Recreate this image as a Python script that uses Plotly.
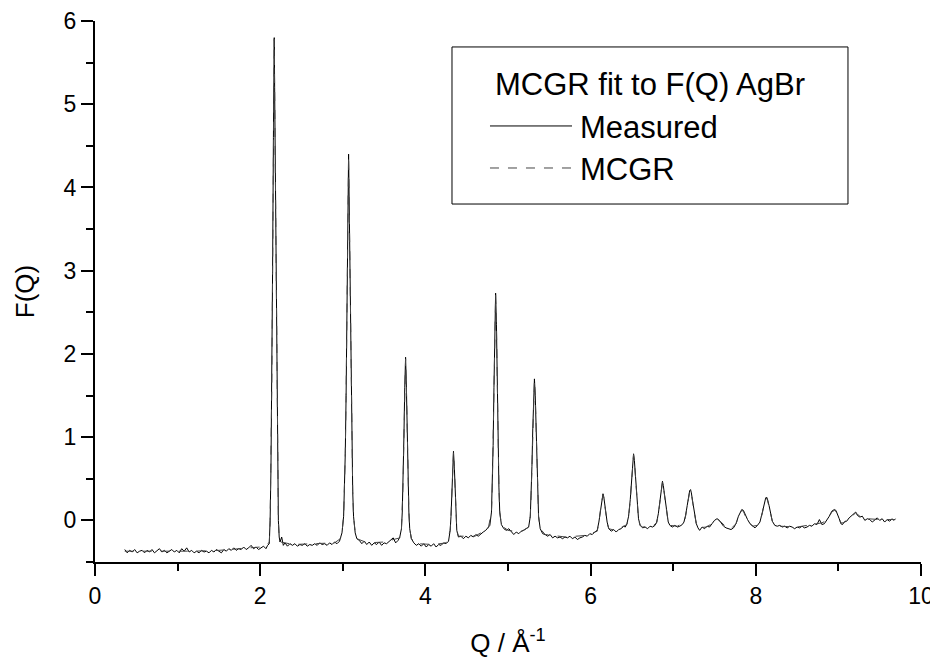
import plotly.graph_objects as go

# Measured F(Q)
q_measured = [
    0.36, 0.39, 0.42, 0.45, 0.48, 0.51, 0.54, 0.57, 0.60, 0.63,
    0.66, 0.69, 0.72, 0.75, 0.78, 0.81, 0.84, 0.87, 0.90, 0.93,
    0.96, 0.99, 1.02, 1.05, 1.08, 1.11, 1.14, 1.17, 1.20, 1.23,
    1.26, 1.29, 1.32, 1.35, 1.38, 1.41, 1.44, 1.47, 1.50, 1.53,
    1.56, 1.59, 1.62, 1.65, 1.68, 1.71, 1.74, 1.77, 1.80, 1.83,
    1.86, 1.89, 1.92, 1.95, 1.98, 2.01, 2.04, 2.07, 2.09, 2.11,
    2.12, 2.13, 2.14, 2.15, 2.16, 2.165, 2.17, 2.175, 2.18, 2.19,
    2.20, 2.21, 2.22, 2.23, 2.24, 2.26, 2.28, 2.30, 2.33, 2.36,
    2.39, 2.42, 2.45, 2.48, 2.51, 2.54, 2.57, 2.60, 2.63, 2.66,
    2.69, 2.72, 2.75, 2.78, 2.81, 2.84, 2.87, 2.90, 2.93, 2.96,
    2.97, 2.99, 3.01, 3.02, 3.03, 3.04, 3.05, 3.06, 3.07, 3.08,
    3.09, 3.10, 3.11, 3.12, 3.13, 3.15, 3.17, 3.20, 3.23, 3.26,
    3.29, 3.32, 3.35, 3.38, 3.41, 3.44, 3.47, 3.50, 3.53, 3.56,
    3.59, 3.61, 3.64, 3.67, 3.69, 3.71, 3.72, 3.73, 3.74, 3.75,
    3.76, 3.77, 3.78, 3.79, 3.80, 3.81, 3.83, 3.86, 3.89, 3.92,
    3.95, 3.98, 4.01, 4.04, 4.07, 4.10, 4.13, 4.16, 4.19, 4.22,
    4.25, 4.28, 4.30, 4.31, 4.32, 4.33, 4.34, 4.35, 4.36, 4.37,
    4.38, 4.40, 4.43, 4.46, 4.49, 4.52, 4.55, 4.58, 4.61, 4.64,
    4.67, 4.70, 4.73, 4.76, 4.78, 4.80, 4.81, 4.82, 4.83, 4.84,
    4.85, 4.86, 4.87, 4.88, 4.89, 4.90, 4.92, 4.95, 4.98, 5.01,
    5.04, 5.07, 5.10, 5.13, 5.16, 5.19, 5.22, 5.25, 5.27, 5.28,
    5.29, 5.30, 5.31, 5.32, 5.33, 5.34, 5.35, 5.36, 5.37, 5.39,
    5.42, 5.45, 5.48, 5.51, 5.54, 5.57, 5.60, 5.63, 5.66, 5.69,
    5.72, 5.75, 5.78, 5.81, 5.84, 5.87, 5.90, 5.93, 5.96, 5.99,
    6.02, 6.05, 6.08, 6.10, 6.12, 6.14, 6.15, 6.16, 6.18, 6.20,
    6.22, 6.25, 6.28, 6.31, 6.34, 6.37, 6.40, 6.42, 6.44, 6.46,
    6.48, 6.50, 6.51, 6.52, 6.53, 6.54, 6.56, 6.58, 6.60, 6.63,
    6.66, 6.69, 6.72, 6.75, 6.78, 6.80, 6.82, 6.84, 6.86, 6.87,
    6.88, 6.90, 6.92, 6.94, 6.96, 6.99, 7.02, 7.05, 7.08, 7.11,
    7.13, 7.15, 7.17, 7.19, 7.20, 7.21, 7.22, 7.24, 7.26, 7.28,
    7.30, 7.32, 7.35, 7.38, 7.41, 7.44, 7.47, 7.50, 7.53, 7.55,
    7.58, 7.61, 7.64, 7.67, 7.70, 7.73, 7.76, 7.79, 7.81, 7.83,
    7.85, 7.87, 7.90, 7.93, 7.96, 7.99, 8.02, 8.05, 8.08, 8.10,
    8.12, 8.13, 8.14, 8.16, 8.18, 8.20, 8.23, 8.26, 8.29, 8.32,
    8.35, 8.38, 8.41, 8.44, 8.47, 8.50, 8.53, 8.56, 8.59, 8.62,
    8.65, 8.68, 8.71, 8.74, 8.77, 8.80, 8.83, 8.86, 8.89, 8.92,
    8.95, 8.97, 8.99, 9.01, 9.03, 9.05, 9.07, 9.10, 9.13, 9.16,
    9.19, 9.21, 9.23, 9.26, 9.29, 9.32, 9.35, 9.38, 9.41, 9.44,
    9.47, 9.50, 9.53, 9.56, 9.59, 9.62, 9.65, 9.67, 9.69,
]
f_measured = [
    -0.35, -0.39, -0.36, -0.38, -0.35, -0.39, -0.37, -0.36, -0.39, -0.36,
    -0.38, -0.35, -0.39, -0.37, -0.34, -0.38, -0.36, -0.39, -0.37, -0.35,
    -0.38, -0.36, -0.39, -0.34, -0.37, -0.33, -0.38, -0.36, -0.39, -0.37,
    -0.39, -0.36, -0.38, -0.37, -0.39, -0.36, -0.38, -0.35, -0.37, -0.39,
    -0.35, -0.37, -0.34, -0.36, -0.33, -0.36, -0.34, -0.35, -0.32, -0.35,
    -0.33, -0.30, -0.34, -0.32, -0.35, -0.33, -0.31, -0.34, -0.30, -0.28,
    0.00, 0.60, 1.60, 3.00, 4.60, 5.20, 5.80, 5.20, 4.60, 3.00,
    1.60, 0.60, 0.00, -0.20, -0.26, -0.20, -0.30, -0.27, -0.31, -0.28,
    -0.30, -0.28, -0.31, -0.29, -0.30, -0.28, -0.31, -0.29, -0.30, -0.28,
    -0.30, -0.27, -0.29, -0.28, -0.30, -0.27, -0.29, -0.26, -0.28, -0.25,
    -0.22, -0.15, 0.05, 0.35, 0.80, 1.50, 2.60, 3.60, 4.40, 3.60,
    2.60, 1.50, 0.80, 0.35, 0.05, -0.15, -0.22, -0.24, -0.28, -0.25,
    -0.29, -0.26, -0.30, -0.27, -0.29, -0.26, -0.30, -0.27, -0.28, -0.25,
    -0.23, -0.21, -0.27, -0.24, -0.20, -0.10, 0.10, 0.45, 1.00, 1.60,
    1.96, 1.60, 1.00, 0.45, 0.10, -0.10, -0.22, -0.27, -0.30, -0.28,
    -0.31, -0.28, -0.32, -0.29, -0.31, -0.28, -0.32, -0.29, -0.30, -0.27,
    -0.28, -0.25, -0.12, 0.05, 0.35, 0.65, 0.83, 0.65, 0.35, 0.05,
    -0.12, -0.20, -0.19, -0.22, -0.19, -0.21, -0.18, -0.20, -0.17, -0.19,
    -0.16, -0.14, -0.12, -0.09, -0.06, 0.10, 0.40, 0.90, 1.60, 2.35,
    2.73, 2.35, 1.60, 0.90, 0.40, 0.10, -0.05, -0.10, -0.12, -0.10,
    -0.13, -0.17, -0.14, -0.16, -0.13, -0.12, -0.10, -0.08, 0.05, 0.30,
    0.65, 1.10, 1.50, 1.70, 1.50, 1.10, 0.65, 0.30, 0.05, -0.10,
    -0.16, -0.17, -0.19, -0.17, -0.21, -0.19, -0.21, -0.20, -0.22, -0.20,
    -0.21, -0.19, -0.22, -0.20, -0.23, -0.21, -0.20, -0.18, -0.19, -0.16,
    -0.17, -0.14, -0.12, -0.02, 0.14, 0.29, 0.32, 0.28, 0.12, -0.02,
    -0.10, -0.13, -0.11, -0.14, -0.11, -0.10, -0.07, -0.08, -0.04, 0.05,
    0.25, 0.58, 0.72, 0.80, 0.72, 0.58, 0.25, 0.02, -0.06, -0.09,
    -0.08, -0.10, -0.07, -0.08, -0.06, -0.02, 0.08, 0.25, 0.42, 0.47,
    0.42, 0.27, 0.10, -0.02, -0.06, -0.08, -0.06, -0.08, -0.07, -0.05,
    -0.02, 0.06, 0.18, 0.31, 0.36, 0.37, 0.33, 0.20, 0.06, -0.04,
    -0.09, -0.12, -0.08, -0.10, -0.07, -0.08, -0.04, 0.00, 0.02, 0.01,
    -0.03, -0.07, -0.09, -0.10, -0.11, -0.09, -0.04, 0.05, 0.10, 0.13,
    0.12, 0.07, 0.01, -0.04, -0.07, -0.09, -0.06, -0.02, 0.10, 0.21,
    0.27, 0.28, 0.26, 0.18, 0.07, -0.01, -0.06, -0.07, -0.06, -0.08,
    -0.07, -0.09, -0.07, -0.08, -0.10, -0.08, -0.09, -0.07, -0.09, -0.08,
    -0.06, -0.07, -0.04, -0.05, 0.01, -0.05, -0.04, 0.00, 0.05, 0.11,
    0.13, 0.12, 0.08, 0.02, -0.04, -0.05, -0.02, -0.01, 0.03, 0.06,
    0.09, 0.10, 0.06, 0.04, 0.05, 0.00, 0.02, 0.01, -0.02, 0.01,
    0.03, 0.00, 0.02, -0.02, 0.01, -0.01, 0.02, 0.00, 0.02,
]

# MCGR fit (smooth, drawn dashed)
q_mcgr = [
    0.36, 0.60, 0.90, 1.20, 1.50, 1.80, 2.00, 2.08, 2.11, 2.12,
    2.13, 2.14, 2.15, 2.16, 2.165, 2.17, 2.175, 2.18, 2.19, 2.20,
    2.21, 2.22, 2.23, 2.25, 2.40, 2.70, 2.90, 2.97, 2.99, 3.01,
    3.02, 3.03, 3.04, 3.05, 3.06, 3.07, 3.08, 3.09, 3.10, 3.11,
    3.12, 3.13, 3.15, 3.17, 3.30, 3.50, 3.69, 3.71, 3.72, 3.73,
    3.74, 3.75, 3.76, 3.77, 3.78, 3.79, 3.80, 3.81, 3.83, 3.90,
    4.10, 4.25, 4.30, 4.31, 4.32, 4.33, 4.34, 4.35, 4.36, 4.37,
    4.38, 4.40, 4.60, 4.76, 4.80, 4.81, 4.82, 4.83, 4.84, 4.85,
    4.86, 4.87, 4.88, 4.89, 4.90, 4.92, 5.00, 5.15, 5.25, 5.27,
    5.28, 5.29, 5.30, 5.31, 5.32, 5.33, 5.34, 5.35, 5.36, 5.37,
    5.39, 5.45, 5.70, 5.95, 6.08, 6.10, 6.12, 6.14, 6.15, 6.16,
    6.18, 6.20, 6.22, 6.30, 6.44, 6.46, 6.48, 6.50, 6.51, 6.52,
    6.53, 6.54, 6.56, 6.58, 6.60, 6.63, 6.75, 6.80, 6.82, 6.84,
    6.86, 6.87, 6.88, 6.90, 6.92, 6.94, 6.96, 7.05, 7.13, 7.15,
    7.17, 7.19, 7.20, 7.21, 7.22, 7.24, 7.26, 7.28, 7.30, 7.40,
    7.47, 7.51, 7.54, 7.58, 7.64, 7.70, 7.76, 7.79, 7.81, 7.83,
    7.85, 7.87, 7.90, 7.93, 7.96, 8.02, 8.05, 8.08, 8.10, 8.12,
    8.13, 8.14, 8.16, 8.18, 8.20, 8.23, 8.30, 8.50, 8.70, 8.80,
    8.86, 8.89, 8.92, 8.95, 8.97, 8.99, 9.01, 9.03, 9.06, 9.12,
    9.16, 9.21, 9.26, 9.35, 9.50, 9.69,
]
f_mcgr = [
    -0.37, -0.37, -0.37, -0.37, -0.36, -0.34, -0.32, -0.30, -0.26, -0.02,
    0.58, 1.58, 2.98, 4.58, 5.18, 5.78, 5.18, 4.58, 2.98, 1.58,
    0.58, 0.00, -0.20, -0.26, -0.29, -0.28, -0.27, -0.22, -0.15, 0.05,
    0.35, 0.80, 1.50, 2.60, 3.60, 4.38, 3.60, 2.60, 1.50, 0.80,
    0.35, 0.05, -0.15, -0.22, -0.27, -0.26, -0.21, -0.10, 0.10, 0.45,
    1.00, 1.60, 1.94, 1.60, 1.00, 0.45, 0.10, -0.10, -0.22, -0.28,
    -0.29, -0.27, -0.12, 0.05, 0.35, 0.65, 0.82, 0.65, 0.35, 0.05,
    -0.12, -0.19, -0.19, -0.10, 0.10, 0.40, 0.90, 1.60, 2.35, 2.71,
    2.35, 1.60, 0.90, 0.40, 0.10, -0.06, -0.12, -0.14, -0.08, 0.05,
    0.30, 0.65, 1.10, 1.50, 1.68, 1.50, 1.10, 0.65, 0.30, 0.05,
    -0.10, -0.17, -0.20, -0.18, -0.13, -0.03, 0.13, 0.28, 0.31, 0.27,
    0.11, -0.03, -0.10, -0.12, -0.05, 0.04, 0.24, 0.57, 0.71, 0.79,
    0.71, 0.57, 0.24, 0.01, -0.06, -0.08, -0.07, -0.03, 0.07, 0.24,
    0.41, 0.46, 0.41, 0.26, 0.09, -0.03, -0.06, -0.07, -0.03, 0.05,
    0.17, 0.30, 0.35, 0.36, 0.32, 0.19, 0.05, -0.05, -0.09, -0.08,
    -0.04, 0.00, 0.01, -0.02, -0.08, -0.10, -0.04, 0.04, 0.09, 0.12,
    0.11, 0.06, 0.00, -0.04, -0.07, -0.06, -0.02, 0.09, 0.20, 0.26,
    0.27, 0.25, 0.17, 0.06, -0.01, -0.06, -0.07, -0.08, -0.05, -0.03,
    0.00, 0.05, 0.10, 0.12, 0.11, 0.07, 0.02, -0.03, -0.03, 0.02,
    0.06, 0.09, 0.05, 0.02, 0.01, 0.01,
]

legend_title = 'MCGR fit to F(Q) AgBr'
series_names = ['Measured', 'MCGR']

font_family = '"Liberation Sans", Arial, sans-serif'

fig = go.Figure()
fig.add_trace(go.Scatter(x=q_measured, y=f_measured, mode='lines', name=series_names[0],
                         line=dict(color='black', width=1), showlegend=False))
fig.add_trace(go.Scatter(x=q_mcgr, y=f_mcgr, mode='lines', name=series_names[1],
                         line=dict(color='#444444', width=1, dash='dash'), showlegend=False))

axis_common = dict(showline=True, linecolor='black', linewidth=2, showgrid=False, zeroline=False,
                   ticks='outside', ticklen=12, tickwidth=2, tickcolor='black', automargin=False,
                   tickfont=dict(size=23, color='black'))

fig.update_xaxes(range=[0, 10], tick0=0, dtick=2,
                 minor=dict(dtick=1, ticks='outside', ticklen=7, tickwidth=2, tickcolor='black'),
                 title=dict(text='Q / Å<sup>-1</sup>', font=dict(size=26, color='black'), standoff=26),
                 **axis_common)
fig.update_yaxes(range=[-0.5, 6], tick0=0, dtick=1,
                 minor=dict(dtick=0.5, ticks='outside', ticklen=7, tickwidth=2, tickcolor='black'),
                 title=dict(text='F(Q)', font=dict(size=26, color='black'), standoff=22),
                 **axis_common)

# legend drawn as a framed box, like the original
legend_font = dict(size=31, color='black', family=font_family)
fig.add_shape(type='rect', xref='paper', yref='paper', x0=0.4322, x1=0.9116, y0=0.6617, y1=0.952,
              line=dict(color='black', width=1), fillcolor='white', layer='above')
fig.add_annotation(xref='paper', yref='paper', x=0.672, y=0.8835, text=legend_title,
                   showarrow=False, xanchor='center', yanchor='middle', font=legend_font)
fig.add_shape(type='line', xref='paper', yref='paper', x0=0.4782, x1=0.5775, y0=0.806, y1=0.806,
              line=dict(color='black', width=1), layer='above')
fig.add_annotation(xref='paper', yref='paper', x=0.5848, y=0.804, text=series_names[0],
                   showarrow=False, xanchor='left', yanchor='middle', font=legend_font)
fig.add_shape(type='line', xref='paper', yref='paper', x0=0.4782, x1=0.5775, y0=0.7283, y1=0.7283,
              line=dict(color='#444444', width=1, dash='dash'), layer='above')
fig.add_annotation(xref='paper', yref='paper', x=0.5848, y=0.726, text=series_names[1],
                   showarrow=False, xanchor='left', yanchor='middle', font=legend_font)

fig.update_layout(
    width=938, height=663,
    margin=dict(l=87, r=25, t=13, b=109),
    paper_bgcolor='white', plot_bgcolor='white',
    font=dict(family=font_family, color='black'),
    showlegend=False,
)

fig.write_html('out.html')
